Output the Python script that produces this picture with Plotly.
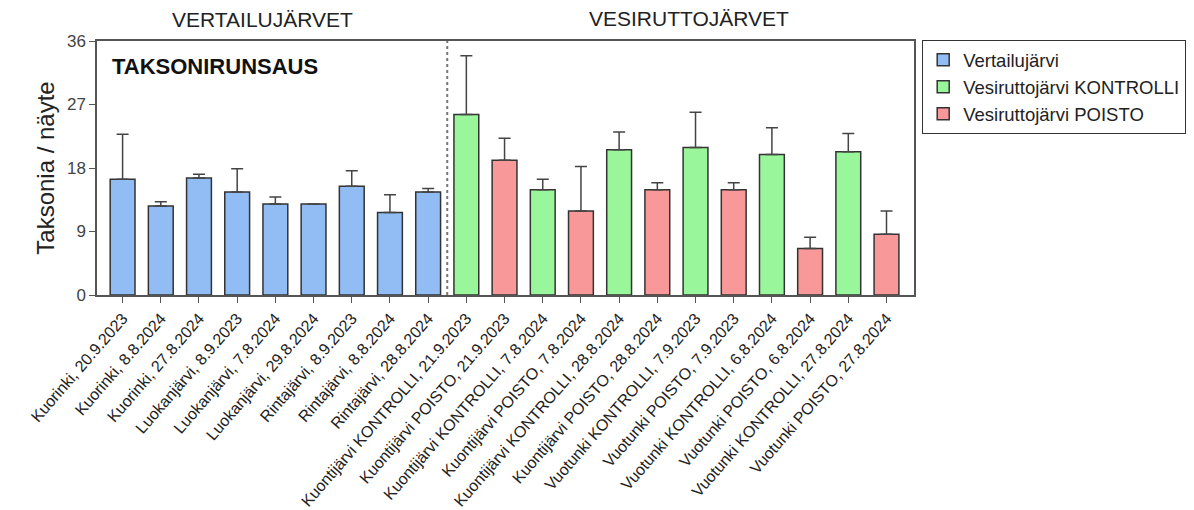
import plotly.graph_objects as go

categories = [
    "Kuorinki, 20.9.2023", "Kuorinki, 8.8.2024", "Kuorinki, 27.8.2024",
    "Luokanjärvi, 8.9.2023", "Luokanjärvi, 7.8.2024", "Luokanjärvi, 29.8.2024",
    "Rintajärvi, 8.9.2023", "Rintajärvi, 8.8.2024", "Rintajärvi, 28.8.2024",
    "Kuontijärvi KONTROLLI, 21.9.2023", "Kuontijärvi POISTO, 21.9.2023",
    "Kuontijärvi KONTROLLI, 7.8.2024", "Kuontijärvi POISTO, 7.8.2024",
    "Kuontijärvi KONTROLLI, 28.8.2024", "Kuontijärvi POISTO, 28.8.2024",
    "Vuotunki KONTROLLI, 7.9.2023", "Vuotunki POISTO, 7.9.2023",
    "Vuotunki KONTROLLI, 6.8.2024", "Vuotunki POISTO, 6.8.2024",
    "Vuotunki KONTROLLI, 27.8.2024", "Vuotunki POISTO, 27.8.2024",
]
means = [16.4, 12.6, 16.6, 14.6, 12.9, 12.9, 15.4, 11.7, 14.6,
         25.6, 19.1, 14.9, 11.9, 20.6, 14.9, 20.9, 14.9, 19.9, 6.6, 20.3, 8.6]
upper = [22.8, 13.2, 17.1, 17.9, 13.9, 12.9, 17.6, 14.2, 15.1,
         33.9, 22.2, 16.4, 18.2, 23.1, 15.9, 25.9, 15.9, 23.7, 8.2, 22.9, 11.9]
groups = (["Vertailujärvi"] * 9 +
          ["Vesiruttojärvi KONTROLLI", "Vesiruttojärvi POISTO"] * 6)
series_names = ["Vertailujärvi", "Vesiruttojärvi KONTROLLI", "Vesiruttojärvi POISTO"]
series_colors = ["#92bcf4", "#9af69b", "#f99898"]
y_ticks = [0, 9, 18, 27, 36]
header_left = "VERTAILUJÄRVET"
header_right = "VESIRUTTOJÄRVET"
panel_title = "TAKSONIRUNSAUS"
y_title = "Taksonia / näyte"

FONT = "Liberation Sans, Arial, sans-serif"
fig = go.Figure()
for name, color in zip(series_names, series_colors):
    idx = [i for i, g in enumerate(groups) if g == name]
    fig.add_trace(go.Bar(
        x=[categories[i] for i in idx],
        y=[means[i] for i in idx],
        name=name,
        width=0.65,
        marker=dict(color=color, line=dict(color="#333333", width=1.5)),
        error_y=dict(type="data", symmetric=False,
                     array=[upper[i] - means[i] for i in idx],
                     arrayminus=[0] * len(idx),
                     color="#444444", thickness=1.5, width=6),
    ))

n_ref = groups.count("Vertailujärvi")
fig.add_shape(type="line", xref="x", yref="y", x0=n_ref - 0.5, x1=n_ref - 0.5,
              y0=0, y1=36, line=dict(color="#777777", width=2, dash="dot"))

fig.add_annotation(text=header_left, xref="x", yref="paper", x=3.66, y=1.083,
                   yanchor="middle", showarrow=False,
                   font=dict(size=21, color="#222", family=FONT))
fig.add_annotation(text=header_right, xref="x", yref="paper", x=14.83, y=1.09,
                   yanchor="middle", showarrow=False,
                   font=dict(size=21, color="#222", family=FONT))
fig.add_annotation(text="<b>" + panel_title + "</b>", xref="paper", yref="paper",
                   x=0.016, y=0.899, xanchor="left", yanchor="middle", showarrow=False,
                   font=dict(size=22, color="#111", family=FONT))

fig.update_layout(
    width=1194, height=510,
    margin=dict(l=89, r=288, t=33, b=223, autoexpand=False),
    paper_bgcolor="white", plot_bgcolor="white",
    barmode="overlay",
    font=dict(family=FONT, color="#333"),
    legend=dict(x=1.0098, y=1.004, xanchor="left", yanchor="top",
                bordercolor="#333", borderwidth=1.2,
                font=dict(size=18.5, color="#222", family=FONT),
                traceorder="normal", itemwidth=30, tracegroupgap=2),
    xaxis=dict(type="category", categoryorder="array", categoryarray=categories,
               range=[-0.67, 20.72], showline=True, linecolor="#555", linewidth=1.5,
               mirror=True, ticks="outside", ticklen=6, tickcolor="#555", tickwidth=1.2,
               tickangle=-49, tickfont=dict(size=16, color="#222", family=FONT),
               showgrid=False, zeroline=False),
    yaxis=dict(range=[0, 36], tickvals=y_ticks, showline=True, linecolor="#555",
               linewidth=1.5, mirror=True, ticks="outside", ticklen=6, tickcolor="#555",
               tickwidth=1.2, tickfont=dict(size=17, color="#444", family=FONT),
               showgrid=False, zeroline=False,
               title=dict(text=y_title, font=dict(size=24, color="#222", family=FONT),
                          standoff=6)),
)

fig.write_html("out.html")
